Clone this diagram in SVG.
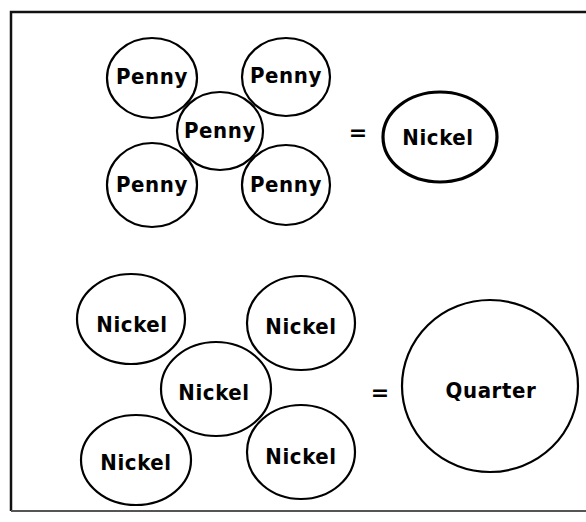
<svg xmlns="http://www.w3.org/2000/svg" width="586" height="522" viewBox="0 0 586 522">
<style>
.coin{fill:#fff;stroke:#000;stroke-width:2.2}
.big{fill:#fff;stroke:#000;stroke-width:3.2}
.t{font-family:"DejaVu Sans Condensed","DejaVu Sans",sans-serif;font-weight:bold;font-size:22px;letter-spacing:0.6px;fill:#000;text-anchor:middle}
.eq{font-family:"DejaVu Sans","Liberation Sans",sans-serif;font-weight:bold;font-size:22px;fill:#000;text-anchor:middle}
.frame{stroke:#111;stroke-width:2.5;fill:none}
.frameb{stroke:#555;stroke-width:2;fill:none}
</style>
<rect width="586" height="522" fill="#fff"/>
<g id="frame">
<path class="frame" d="M586 12 H11 V511"/>
<path class="frameb" d="M11 511 H586"/>
</g>
<g id="connectors"></g>
<g id="penny-tl"><ellipse class="coin" cx="152" cy="78" rx="45" ry="40"/><text class="t" x="152" y="84">Penny</text></g>
<g id="penny-tr"><ellipse class="coin" cx="286" cy="77" rx="44" ry="39"/><text class="t" x="286" y="83">Penny</text></g>
<g id="penny-bl"><ellipse class="coin" cx="152" cy="185" rx="45" ry="42"/><text class="t" x="152" y="192">Penny</text></g>
<g id="penny-br"><ellipse class="coin" cx="286" cy="185" rx="44" ry="40"/><text class="t" x="286" y="192">Penny</text></g>
<g id="penny-c"><ellipse class="coin" cx="220" cy="131" rx="43" ry="39"/><text class="t" x="220" y="138">Penny</text></g>
<g id="eq1"><text class="eq" x="358" y="140">=</text></g>
<g id="nickel-top"><ellipse class="big" cx="440" cy="137" rx="57" ry="45"/><text class="t" x="438" y="145">Nickel</text></g>
<g id="nickel-tl"><ellipse class="coin" cx="131" cy="319" rx="54" ry="45"/><text class="t" x="132" y="332">Nickel</text></g>
<g id="nickel-tr"><ellipse class="coin" cx="301" cy="323" rx="54" ry="47"/><text class="t" x="301" y="334">Nickel</text></g>
<g id="nickel-c"><ellipse class="coin" cx="216" cy="389" rx="55" ry="47"/><text class="t" x="214" y="400">Nickel</text></g>
<g id="nickel-bl"><ellipse class="coin" cx="136" cy="460" rx="55" ry="45"/><text class="t" x="136" y="470">Nickel</text></g>
<g id="nickel-br"><ellipse class="coin" cx="301" cy="452" rx="54" ry="47"/><text class="t" x="301" y="464">Nickel</text></g>
<g id="eq2"><text class="eq" x="380" y="400">=</text></g>
<g id="quarter"><ellipse class="coin" cx="490" cy="386" rx="88" ry="86"/><text class="t" x="491" y="398">Quarter</text></g>
</svg>
